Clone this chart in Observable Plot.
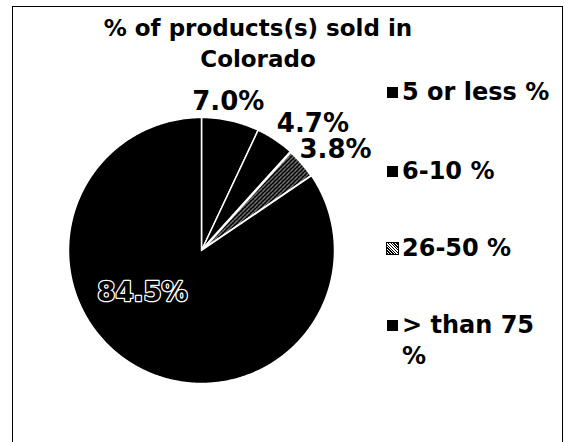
<!DOCTYPE html>
<html>
<head>
<meta charset="utf-8">
<script src="https://cdn.jsdelivr.net/npm/d3@7"></script>
<script src="https://cdn.jsdelivr.net/npm/@observablehq/plot@0.6"></script>
<style>
  html, body { margin: 0; padding: 0; background: #fff; }
  #wrap { position: relative; width: 565px; height: 442px; overflow: hidden;
          font-family: Tahoma, "DejaVu Sans", sans-serif; font-weight: bold; color: #000; }
  #frame { position: absolute; left: 12px; top: 6px; width: 551px; height: 460px; border: 1.5px solid #000; box-sizing: border-box; }
  #title { position: absolute; left: 58px; width: 400px; top: 13px; text-align: center; font-size: 23px; line-height: 31px; }
  #chart { position: absolute; left: 0; top: 0; }
  .leg { position: absolute; left: 387px; display: flex; align-items: flex-start; font-size: 24px; line-height: 31px; }
  .sw { width: 11px; height: 11px; margin-top: 10px; margin-right: 4px; flex: none; }
  .lt { width: 152px; }
</style>
</head>
<body>
<div id="wrap">
  <div id="frame"></div>
  <div id="chart"></div>
  <div id="title"></div>
</div>
<script>
// ---- data ----
const titleLines = ["% of products(s) sold in", "Colorado"];
const categories = ["5 or less %", "6-10 %", "26-50 %", "> than 75 %"];
const values = [7.0, 4.7, 3.8, 84.5];
const valueLabels = ["7.0%", "4.7%", "3.8%", "84.5%"];

// ---- styling / layout (not data) ----
const sliceFills = ["#000", "#000", "url(#stipple)", "#000"];
const labelRadius = [1.15, 1.15, 1.15, 0.5];
const labelNudge = [[-0.05, 0], [0.2, 0], [0.14, 0], [-0.21, 0.125]];
const legendTops = [77, 156, 233, 310];

// title
document.getElementById("title").innerHTML = titleLines.join("<br>");

// pie geometry from data
const pie = d3.pie().sort(null).value(d => d)(values);
const polygons = [];
pie.forEach((p, i) => {
  const n = Math.max(2, Math.ceil((p.endAngle - p.startAngle) / 0.01));
  polygons.push({slice: i, ord: -1, x: 0, y: 0});
  for (let k = 0; k <= n; k++) {
    const a = p.startAngle + (p.endAngle - p.startAngle) * k / n;
    polygons.push({slice: i, ord: k, x: Math.sin(a), y: Math.cos(a)});
  }
  polygons.push({slice: i, ord: n + 1, x: 0, y: 0});
});
const labels = pie.map((p, i) => {
  const a = (p.startAngle + p.endAngle) / 2;
  return {
    text: valueLabels[i],
    x: Math.sin(a) * labelRadius[i] + labelNudge[i][0],
    y: Math.cos(a) * labelRadius[i] + labelNudge[i][1],
    inside: labelRadius[i] < 1
  };
});

const fontFam = 'Tahoma, "DejaVu Sans", sans-serif';
const marks = categories.map((c, i) =>
  Plot.line(polygons.filter(d => d.slice === i), {
    x: "x", y: "y", fill: sliceFills[i], stroke: "white",
    strokeWidth: i === 2 ? 2.5 : 1.5, strokeLinejoin: "round", curve: "linear"
  })
);
marks.push(Plot.text(labels.filter(d => !d.inside), {
  x: "x", y: "y", text: "text", fill: "black",
  fontSize: 26, fontWeight: "bold", textAnchor: "middle", fontFamily: fontFam
}));
marks.push(Plot.text(labels.filter(d => d.inside), {
  x: "x", y: "y", text: "text", fill: "black", stroke: "white", strokeWidth: 2.5,
  paintOrder: "stroke", fontSize: 26, fontWeight: "bold", textAnchor: "middle", fontFamily: fontFam
}));

const chart = Plot.plot({
  width: 565, height: 442,
  margin: 0,
  x: {domain: [-1, 1], range: [68, 334], axis: null},
  y: {domain: [-1, 1], range: [383, 117], axis: null},
  style: {background: "transparent", fontFamily: fontFam},
  marks
});

// stipple pattern for the 26-50 % slice
const ns = "http://www.w3.org/2000/svg";
const defs = document.createElementNS(ns, "defs");
defs.innerHTML = `<pattern id="stipple" patternUnits="userSpaceOnUse" width="4" height="4">
  <rect width="4" height="4" fill="#000"/>
  <rect x="0" y="0" width="1" height="1" fill="#fff"/>
  <rect x="2" y="2" width="1" height="1" fill="#fff"/>
  <rect x="3" y="1" width="1" height="1" fill="#ddd"/>
  <rect x="1" y="3" width="1" height="1" fill="#999"/>
</pattern>`;
chart.insertBefore(defs, chart.firstChild);
document.getElementById("chart").appendChild(chart);

// legend
const wrap = document.getElementById("wrap");
categories.forEach((c, i) => {
  const row = document.createElement("div");
  row.className = "leg";
  row.style.top = legendTops[i] + "px";
  const sw = document.createElement("div");
  sw.className = "sw";
  if (sliceFills[i].startsWith("url")) {
    sw.style.background = "repeating-linear-gradient(45deg,#000 0 1px,#fff 1px 2px)";
    sw.style.outline = "1px solid #000";
  } else {
    sw.style.background = sliceFills[i];
  }
  const t = document.createElement("div");
  t.className = "lt";
  t.textContent = c;
  row.appendChild(sw);
  row.appendChild(t);
  wrap.appendChild(row);
});
</script>
</body>
</html>
